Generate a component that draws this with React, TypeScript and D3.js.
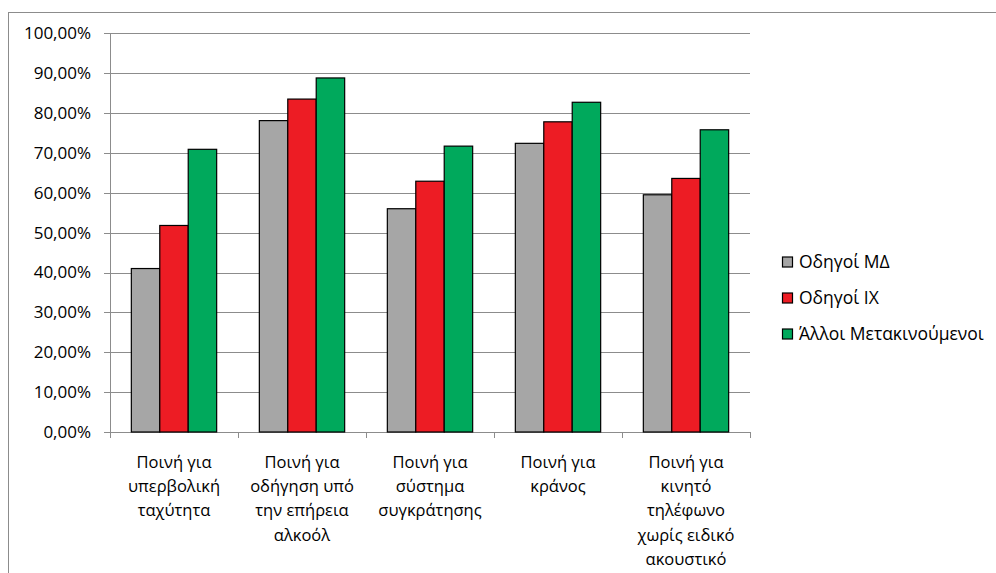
import React from "react";
import * as d3 from "d3";

const categories: string[][] = [
  ["Ποινή για", "υπερβολική", "ταχύτητα"],
  ["Ποινή για", "οδήγηση υπό", "την επήρεια", "αλκοόλ"],
  ["Ποινή για", "σύστημα", "συγκράτησης"],
  ["Ποινή για", "κράνος"],
  ["Ποινή για", "κινητό", "τηλέφωνο", "χωρίς ειδικό", "ακουστικό"],
];
const seriesNames = ["Οδηγοί ΜΔ", "Οδηγοί ΙΧ", "Άλλοι Μετακινούμενοι"];
const seriesColors = ["#a6a6a6", "#ed1c24", "#00a95c"];
const driversMD = [41.0, 78.1, 56.0, 72.4, 59.5];
const driversIX = [51.8, 83.5, 62.9, 77.8, 63.6];
const otherTravellers = [70.9, 88.8, 71.7, 82.7, 75.8];
const yTicks = [0, 10, 20, 30, 40, 50, 60, 70, 80, 90, 100];

const seriesValues = [driversMD, driversIX, otherTravellers];

const W = 996;
const H = 573;
const plot = { left: 110, right: 750, top: 33.3, bottom: 432 };
const FONT = "'Open Sans', 'Noto Sans', sans-serif";

export default function App() {
  const x0 = d3
    .scaleBand<number>()
    .domain(categories.map((_, i) => i))
    .range([plot.left, plot.right])
    .paddingInner(0)
    .paddingOuter(0);
  const groupPad = 0.1667;
  const x1 = d3
    .scaleBand<number>()
    .domain(seriesNames.map((_, i) => i))
    .range([x0.bandwidth() * groupPad, x0.bandwidth() * (1 - groupPad)]);
  const y = d3.scaleLinear().domain([0, 100]).range([plot.bottom, plot.top]);
  const fmt = (v: number) => v.toFixed(2).replace(".", ",") + "%";

  return (
    <svg
      width={W}
      height={H}
      style={{ position: "absolute", left: 0, top: 0, background: "#fff" }}
      fontFamily={FONT}
    >
      {/* chart frame */}
      <rect x={8.5} y={12.5} width={1000} height={600} fill="#fff" stroke="#8c8c8c" strokeWidth={1} />

      {/* gridlines and y ticks */}
      {yTicks.map((t) => (
        <g key={t}>
          <line
            x1={plot.left - 6}
            x2={plot.right}
            y1={Math.round(y(t)) + 0.5}
            y2={Math.round(y(t)) + 0.5}
            stroke="#8c8c8c"
            strokeWidth={1}
          />
          <text x={91} y={y(t)} dy="0.35em" textAnchor="end" fontSize={17} fill="#000">
            {fmt(t)}
          </text>
        </g>
      ))}

      {/* y axis */}
      <line x1={plot.left + 0.5} x2={plot.left + 0.5} y1={plot.top} y2={plot.bottom + 6} stroke="#8c8c8c" />
      {/* category ticks */}
      {d3.range(categories.length + 1).map((i) => {
        const xx = Math.round(plot.left + i * x0.step()) + 0.5;
        return <line key={i} x1={xx} x2={xx} y1={plot.bottom} y2={plot.bottom + 6} stroke="#8c8c8c" />;
      })}

      {/* bars */}
      {categories.map((_, ci) => (
        <g key={ci} transform={`translate(${x0(ci)},0)`}>
          {seriesValues.map((vals, si) => (
            <rect
              key={si}
              x={x1(si)}
              y={y(vals[ci])}
              width={x1.bandwidth()}
              height={plot.bottom - y(vals[ci])}
              fill={seriesColors[si]}
              stroke="#000"
              strokeWidth={1.2}
            />
          ))}
        </g>
      ))}

      {/* category labels */}
      {categories.map((lines, ci) => (
        <text key={ci} textAnchor="middle" fontSize={16.5} fill="#000">
          {lines.map((ln, li) => (
            <tspan key={li} x={(x0(ci) as number) + x0.bandwidth() / 2} y={462 + li * 24.3} dy="0.35em">
              {ln}
            </tspan>
          ))}
        </text>
      ))}

      {/* legend */}
      {seriesNames.map((name, i) => (
        <g key={name} transform={`translate(782,${262 + i * 36})`}>
          <rect x={0.5} y={-5} width={10} height={10} fill={seriesColors[i]} stroke="#000" strokeWidth={1.2} />
          <text x={17} y={0} dy="0.35em" fontSize={17.5} fill="#000">
            {name}
          </text>
        </g>
      ))}
    </svg>
  );
}
